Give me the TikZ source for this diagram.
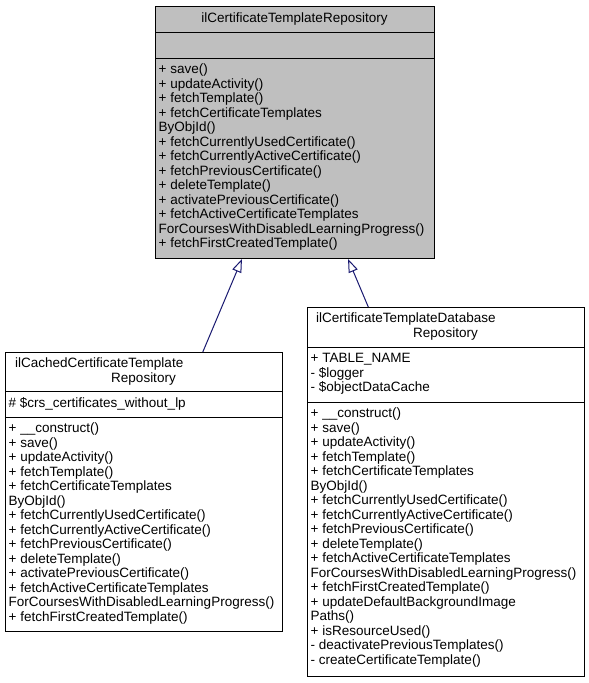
\documentclass[tikz,border=0pt]{standalone}
\usepackage{fontspec}
\setmainfont{Liberation Sans}
\usetikzlibrary{arrows.meta}
\definecolor{edgeblue}{HTML}{191970}
\definecolor{basefill}{gray}{0.75}
\begin{document}
\begin{tikzpicture}[x=1pt,y=-1pt,
  box/.style={draw=black, line width=1pt, rectangle, inner sep=0pt, anchor=north west},
  sepline/.style={draw=black, line width=1pt},
  txt/.style={inner sep=0pt, anchor=base west, font=\fontsize{13.5}{14.5}\selectfont},
  ttl/.style={inner sep=0pt, anchor=base, font=\fontsize{13.5}{14.5}\selectfont},
  inh/.style={draw=edgeblue, line width=1pt, -{Triangle[open, length=13.3pt, width=9.6pt]}}]
\useasboundingbox (0,0) rectangle (589,683);

% ---------- base class ----------
\node[box, fill=basefill, minimum width=279pt, minimum height=252pt] (base) at (155,6) {};
\draw[sepline] (base.west |- 0,32) -- (base.east |- 0,32);
\draw[sepline] (base.west |- 0,58) -- (base.east |- 0,58);
\node[ttl] (baseT) at (294.5,22) {ilCertificateTemplateRepository};
\foreach \t [count=\i from 0] in {
  + save(),
  + updateActivity(),
  + fetchTemplate(),
  + fetchCertificateTemplates,
  ByObjId(),
  + fetchCurrentlyUsedCertificate(),
  + fetchCurrentlyActiveCertificate(),
  + fetchPreviousCertificate(),
  + deleteTemplate(),
  + activatePreviousCertificate(),
  + fetchActiveCertificateTemplates,
  ForCoursesWithDisabledLearningProgress(),
  + fetchFirstCreatedTemplate()}
  \node[txt] (bm\i) at (158.5,{73.5+14.5*\i}) {\t};

% ---------- cached repository ----------
\node[box, fill=white, minimum width=277pt, minimum height=279pt] (cached) at (5,352) {};
\draw[sepline] (cached.west |- 0,391) -- (cached.east |- 0,391);
\draw[sepline] (cached.west |- 0,417) -- (cached.east |- 0,417);
\node[txt] (cT1) at (15,367.5) {ilCachedCertificateTemplate};
\node[ttl] (cT2) at (143.5,382) {Repository};
\node[txt] (cA0) at (8.5,407) {\#~\$crs\_certificates\_without\_lp};
\foreach \t [count=\i from 0] in {
  + \_\_construct(),
  + save(),
  + updateActivity(),
  + fetchTemplate(),
  + fetchCertificateTemplates,
  ByObjId(),
  + fetchCurrentlyUsedCertificate(),
  + fetchCurrentlyActiveCertificate(),
  + fetchPreviousCertificate(),
  + deleteTemplate(),
  + activatePreviousCertificate(),
  + fetchActiveCertificateTemplates,
  ForCoursesWithDisabledLearningProgress(),
  + fetchFirstCreatedTemplate()}
  \node[txt] (cm\i) at (8.5,{432.5+14.5*\i}) {\t};

% ---------- database repository ----------
\node[box, fill=white, minimum width=277pt, minimum height=369pt] (dbrepo) at (307,307) {};
\draw[sepline] (dbrepo.west |- 0,347) -- (dbrepo.east |- 0,347);
\draw[sepline] (dbrepo.west |- 0,402) -- (dbrepo.east |- 0,402);
\node[txt] (dT1) at (316,322.5) {ilCertificateTemplateDatabase};
\node[ttl] (dT2) at (445.5,337) {Repository};
\foreach \t [count=\i from 0] in {
  + TABLE\_NAME,
  - \$logger,
  - \$objectDataCache}
  \node[txt] (da\i) at (310.5,{362.5+14.5*\i}) {\t};
\foreach \t [count=\i from 0] in {
  + \_\_construct(),
  + save(),
  + updateActivity(),
  + fetchTemplate(),
  + fetchCertificateTemplates,
  ByObjId(),
  + fetchCurrentlyUsedCertificate(),
  + fetchCurrentlyActiveCertificate(),
  + fetchPreviousCertificate(),
  + deleteTemplate(),
  + fetchActiveCertificateTemplates,
  ForCoursesWithDisabledLearningProgress(),
  + fetchFirstCreatedTemplate(),
  + updateDefaultBackgroundImage,
  Paths(),
  + isResourceUsed(),
  - deactivatePreviousTemplates(),
  - createCertificateTemplate()}
  \node[txt] (dm\i) at (310.5,{417.5+14.5*\i}) {\t};

% ---------- inheritance ----------
\draw[inh] (cached) -- (base);
\draw[inh] (dbrepo) -- (base);
\end{tikzpicture}
\end{document}
